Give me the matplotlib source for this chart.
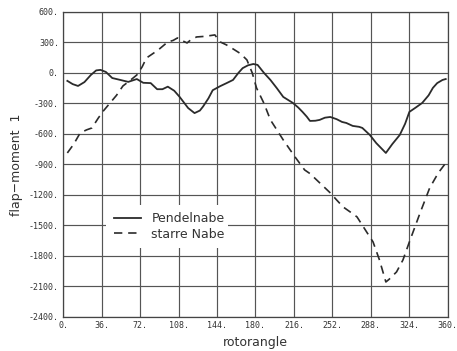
import matplotlib.pyplot as plt
import numpy as np

# rotor angle [deg] and flap moment for the teetering hub (Pendelnabe)
pendel_angle = [4, 9, 14, 20, 26, 31, 35, 40, 46, 54, 61, 69, 75, 82, 88, 93,
                98, 104, 109, 113, 117, 123, 128, 131, 136, 140, 147, 153, 159,
                164, 168, 173, 178, 182, 188, 194, 200, 206, 215, 220, 224, 228,
                231, 236, 240, 245, 250, 256, 261, 265, 271, 277, 280, 287, 293,
                302, 308, 315, 320, 324, 330, 336, 342, 346, 350, 355, 358]
pendel_moment = [-78, -110, -128, -90, -20, 25, 30, 10, -50, -70, -88, -60, -97,
                 -100, -160, -160, -135, -175, -235, -290, -345, -395, -370, -330,
                 -250, -170, -130, -100, -69, 0, 47, 75, 88, 79, 0, -69, -150,
                 -236, -295, -340, -383, -430, -472, -470, -462, -440, -433, -455,
                 -482, -492, -521, -530, -541, -610, -690, -787, -700, -610, -500,
                 -383, -340, -295, -220, -147, -100, -69, -60]

# rigid hub (starre Nabe)
starr_angle = [4, 10, 16, 22, 27, 33, 38, 44, 50, 56, 62, 69, 74, 78, 84, 89, 94,
               98, 103, 107, 111, 116, 120, 125, 133, 142, 147, 153, 160, 166, 172,
               177, 181, 188, 194, 200, 206, 212, 217, 226, 231, 240, 250, 256,
               262, 269, 275, 284, 290, 296, 302, 305, 312, 318, 324, 329, 334,
               343, 351, 357]
starr_moment = [-787, -700, -590, -560, -541, -443, -370, -295, -220, -128, -80,
                -20, 60, 147, 190, 226, 270, 305, 320, 344, 320, 295, 330, 354,
                360, 374, 305, 275, 230, 190, 128, 0, -148, -300, -462, -560,
                -659, -750, -826, -954, -990, -1080, -1180, -1250, -1318, -1370,
                -1416, -1564, -1662, -1839, -2056, -2030, -1957, -1839, -1662,
                -1520, -1377, -1131, -984, -900]

x_ticks = np.arange(0, 361, 36)
y_ticks = np.arange(-2400, 601, 300)

fig = plt.figure(figsize=(4.57, 3.51), dpi=100)
ax = fig.add_axes([0.138, 0.097, 0.842, 0.869])

ax.plot(pendel_angle, pendel_moment, color="#2b2b2b", lw=1.3,
        label="Pendelnabe", zorder=3)
ax.plot(starr_angle, starr_moment, color="#2b2b2b", lw=1.2,
        linestyle=(0, (5, 3.5)), label="starre Nabe", zorder=3)

ax.set_xlim(0, 360)
ax.set_ylim(-2400, 600)
ax.set_xticks(x_ticks)
ax.set_yticks(y_ticks)
ax.set_xticklabels([f"{v}." for v in x_ticks])
ax.set_yticklabels([f"{v}." for v in y_ticks])
ax.tick_params(direction="in", length=0, labelsize=6, colors="#333333", pad=3)
for lab in ax.get_xticklabels() + ax.get_yticklabels():
    lab.set_family("DejaVu Sans Mono")

ax.grid(True, color="#555555", lw=0.85)
ax.set_axisbelow(True)
for sp in ax.spines.values():
    sp.set_color("#444444")
    sp.set_linewidth(0.9)

ax.set_xlabel("rotorangle", fontsize=9, color="#333333", labelpad=4)
ax.set_ylabel("flap\u2212moment  1", fontsize=9, color="#333333", labelpad=4)

# white legend box blanks out the grid behind it
leg = ax.legend(loc="lower left", bbox_to_anchor=(0.096, 0.205, 0.35, 0.15),
                mode="expand", frameon=True, fontsize=9, handlelength=2.2,
                borderpad=0.6, labelspacing=0.2, handletextpad=0.8)
leg.get_frame().set_facecolor("white")
leg.get_frame().set_edgecolor("none")
leg.get_frame().set_alpha(1)
for t in leg.get_texts():
    t.set_color("#333333")

fig.savefig("out.png", dpi=100)
